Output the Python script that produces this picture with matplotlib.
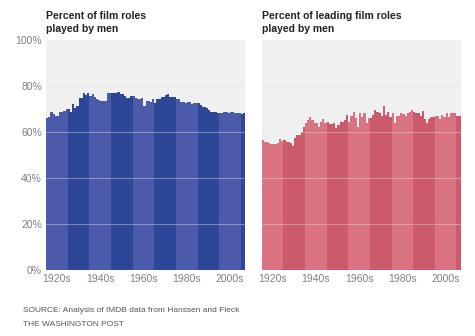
"""
Share of film roles played by men, 1920-2011 (IMDB data).
Two side-by-side bar panels: all roles and leading roles.
"""

import numpy as np
import matplotlib.pyplot as plt

plt.rcParams['font.family'] = ['Liberation Sans', 'DejaVu Sans']

# Years covered by the bars
years = list(range(1920, 2012))

# Percent of all film roles played by men
all_roles = [
    66.2, 66.5, 68.8, 67.7, 67.0, 67.0, 68.5, 68.5, 69.3, 70.0,
    70.0, 68.8, 72.2, 70.3, 71.3, 74.6, 75.0, 76.8, 76.0, 76.8,
    75.7, 76.5, 75.4, 74.2, 73.8, 73.6, 73.6, 73.6, 76.8, 76.8,
    77.1, 77.1, 77.1, 77.5, 76.5, 76.5, 75.7, 75.0, 75.0, 75.7,
    75.7, 75.0, 74.2, 74.2, 74.8, 71.3, 73.6, 73.6, 73.2, 74.2,
    72.8, 74.2, 74.2, 75.4, 75.4, 76.1, 76.5, 75.4, 75.2, 75.2,
    74.2, 74.2, 73.2, 73.2, 72.5, 73.0, 73.0, 72.2, 72.5, 72.5,
    72.8, 71.7, 71.0, 71.0, 70.3, 69.6, 68.8, 68.8, 68.8, 68.1,
    68.1, 68.4, 68.6, 68.6, 68.1, 68.5, 68.5, 68.1, 68.1, 68.1,
    67.7, 68.2,
]

# Percent of leading film roles played by men
lead_roles = [
    56.5, 55.8, 55.8, 55.1, 54.8, 54.8, 54.8, 55.1, 56.8, 56.2,
    56.5, 55.8, 55.8, 55.1, 53.9, 57.2, 58.7, 58.7, 60.1, 62.3,
    64.0, 65.2, 66.7, 65.2, 63.8, 63.8, 62.3, 64.5, 65.5, 63.8,
    64.5, 63.5, 63.5, 64.0, 61.6, 63.0, 64.5, 64.5, 65.2, 67.4,
    64.5, 67.0, 68.8, 66.0, 62.0, 68.1, 66.7, 68.1, 64.0, 66.0,
    66.0, 67.4, 69.6, 68.8, 68.1, 67.0, 71.3, 67.4, 68.8, 66.5,
    68.1, 64.0, 67.0, 67.0, 68.1, 67.8, 67.0, 68.1, 68.8, 69.6,
    68.8, 68.1, 68.1, 67.0, 69.3, 65.5, 64.0, 65.5, 66.5, 66.7,
    67.0, 67.0, 65.5, 67.4, 66.5, 68.1, 66.5, 68.4, 68.1, 68.1,
    67.0, 67.0,
]

decade_ticks = [1925, 1945, 1965, 1985, 2005]
decade_labels = ['1920s', '1940s', '1960s', '1980s', '2000s']
y_ticks = [0, 20, 40, 60, 80, 100]
y_labels = ['0%', '20%', '40%', '60%', '80%', '100%']

titles = ['Percent of film roles\nplayed by men',
          'Percent of leading film roles\nplayed by men']

# light / dark shade for alternating decades
blues = ('#4b5ba9', '#2e4697')
reds = ('#d97381', '#cb5a6b')

fig = plt.figure(figsize=(4.75, 3.36), dpi=100)
ax1 = fig.add_axes([0.097, 0.196, 0.419, 0.685])
ax2 = fig.add_axes([0.551, 0.196, 0.419, 0.685])


def draw_panel(ax, values, shades, title, show_y):
    # every other decade gets the darker shade
    colors = [shades[((y - 1920) // 10) % 2] for y in years]
    ax.set_facecolor('#f0f0f0')
    ax.bar(years, values, width=1.0, align='edge', color=colors,
           linewidth=0, antialiased=False, zorder=2)
    for v in y_ticks[1:-1]:
        ax.axhline(v, color='#e2e2e2', linewidth=0.8, alpha=0.4, zorder=3)
    ax.set_xlim(1920, 2012)
    ax.set_ylim(0, 100)
    ax.set_xticks(decade_ticks)
    ax.set_xticklabels(decade_labels)
    ax.set_yticks(y_ticks)
    if show_y:
        ax.set_yticklabels(y_labels)
    else:
        ax.set_yticklabels([])
    ax.tick_params(length=0, labelsize=7.5, labelcolor='#808080', pad=3)
    for s in ax.spines.values():
        s.set_visible(False)
    ax.text(0.0, 1.025, title, transform=ax.transAxes, ha='left',
            va='bottom', fontsize=7.5, fontweight='bold', color='#222222',
            linespacing=1.35)


draw_panel(ax1, all_roles, blues, titles[0], True)
draw_panel(ax2, lead_roles, reds, titles[1], False)

fig.text(0.048, 0.075, 'SOURCE: Analysis of IMDB data from Hanssen and Fleck',
         fontsize=6, color='#555555', va='center')
fig.text(0.048, 0.035, 'THE WASHINGTON POST', fontsize=6, color='#555555',
         va='center')

fig.savefig('out.png', dpi=100, facecolor='white')
